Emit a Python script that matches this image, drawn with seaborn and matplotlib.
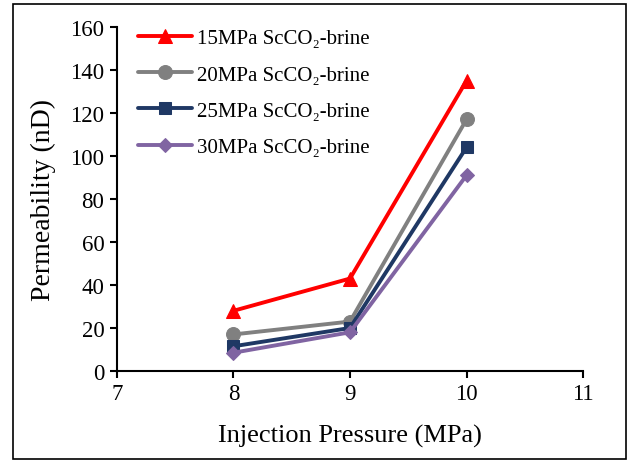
import pandas as pd
import matplotlib.pyplot as plt
import matplotlib.patches as patches
import seaborn as sns

# Data
pressure = [8, 9, 10]
perm_15 = [28, 43, 135]
perm_20 = [17, 23, 117]
perm_25 = [11.5, 20, 104]
perm_30 = [8.5, 18, 91]
labels = ['15MPa ScCO\u2082-brine', '20MPa ScCO\u2082-brine',
          '25MPa ScCO\u2082-brine', '30MPa ScCO\u2082-brine']

series = [perm_15, perm_20, perm_25, perm_30]
rows = []
for lab, vals in zip(labels, series):
    for x, v in zip(pressure, vals):
        rows.append({'pressure': x, 'perm': v, 'case': lab})
df = pd.DataFrame(rows)

sns.set_style("white")
plt.rcParams['font.family'] = ['Liberation Serif', 'DejaVu Serif']
plt.rcParams['text.color'] = 'black'
plt.rcParams['axes.labelcolor'] = 'black'
plt.rcParams['xtick.color'] = 'black'
plt.rcParams['ytick.color'] = 'black'

colors = ['#ff0000', '#808080', '#1f3864', '#8064a2']
markers = ['^', 'o', 's', 'D']
sizes = [10.5, 10, 8.5, 7.5]

fig = plt.figure(figsize=(6.32, 4.64), dpi=100)
ax = fig.add_axes([0.1851, 0.1983, 0.7374, 0.7414])

for lab, c, m, s in zip(labels, colors, markers, sizes):
    sub = df[df['case'] == lab]
    sns.lineplot(data=sub, x='pressure', y='perm', ax=ax, color=c,
                 marker=m, markersize=s, markeredgecolor=c, linewidth=2.8,
                 label=lab)

ax.set_xlim(7, 11)
ax.set_ylim(0, 160)
ax.set_xticks([7, 8, 9, 10, 11])
ax.set_yticks(range(0, 161, 20))
ax.set_xlabel('Injection Pressure (MPa)', fontsize=19, labelpad=14)
ax.set_ylabel('Permeability (nD)', fontsize=20, labelpad=10)
ax.tick_params(axis='both', labelsize=16.5, direction='out', length=5,
               width=1.5, pad=4, color='black', labelcolor='black',
               left=True, bottom=True)
for side in ['top', 'right']:
    ax.spines[side].set_visible(False)
for side in ['left', 'bottom']:
    ax.spines[side].set_linewidth(1.5)
    ax.spines[side].set_color('black')

ax.legend(loc='upper left', bbox_to_anchor=(0.045, 0.995), frameon=False,
          fontsize=15, handlelength=2.6, labelspacing=0.8, handletextpad=0.25,
          borderpad=0, borderaxespad=0)

# outer frame around the figure
fig.patches.append(patches.Rectangle((0.02, 0.009), 0.97, 0.98,
                                     transform=fig.transFigure, fill=False,
                                     edgecolor='black', linewidth=1.2))

plt.savefig('out.png', dpi=100)
